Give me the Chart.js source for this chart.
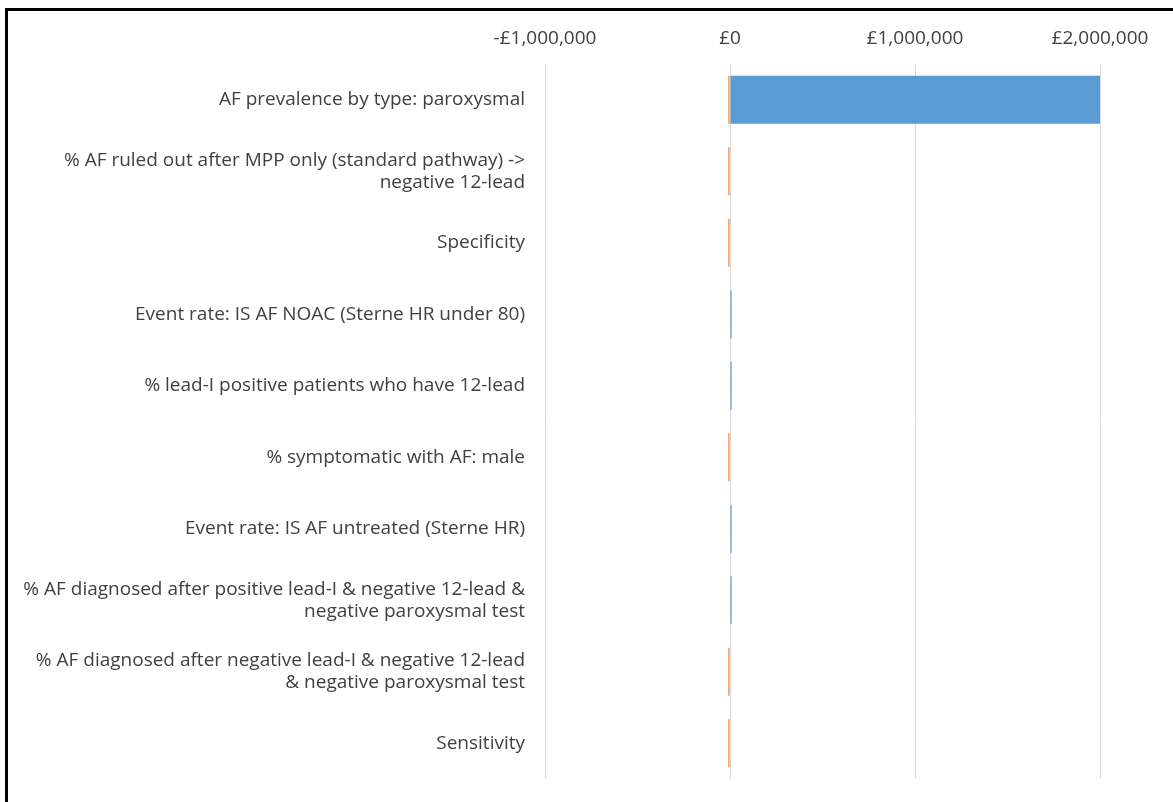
<!DOCTYPE html>
<html>
<head>
<meta charset="utf-8">
<script src="https://cdn.jsdelivr.net/npm/chart.js@4"></script>
<style>
  html, body { margin: 0; padding: 0; background: #fff; overflow: hidden; }
  #wrap { position: absolute; left: 0; top: 0; width: 1173px; height: 802px; }
  #frame {
    position: absolute; left: 5px; top: 8px; width: 1200px; height: 820px;
    border-top: 3px solid #000; border-left: 3px solid #000;
    box-sizing: border-box; pointer-events: none;
  }
</style>
</head>
<body>
<div id="wrap">
  <canvas id="tornado" width="1173" height="802"></canvas>
  <div id="frame"></div>
</div>
<script>
// Tornado chart: parameter ranges, high (blue) vs low (orange)
const categories = [
  'AF prevalence by type: paroxysmal',
  ['% AF ruled out after MPP only (standard pathway) ->', 'negative 12-lead'],
  'Specificity',
  'Event rate: IS AF NOAC (Sterne HR under 80)',
  '% lead-I positive patients who have 12-lead',
  '% symptomatic with AF: male',
  'Event rate: IS AF untreated (Sterne HR)',
  ['% AF diagnosed after positive lead-I & negative 12-lead &', 'negative paroxysmal test'],
  ['% AF diagnosed after negative lead-I & negative 12-lead', '& negative paroxysmal test'],
  'Sensitivity'
];

const highValues = [2005000, 0, 0, 9000, 9000, 0, 9000, 9000, 0, 0];
const lowValues = [-9000, -9000, -9000, 0, 0, -9000, 0, 0, -9000, -9000];

const xTicks = [-1000000, 0, 1000000, 2000000];

const textColor = '#404040';
const fontFamily = '"Open Sans", sans-serif';

function money(v) {
  const s = '£' + Math.abs(v).toLocaleString('en-GB');
  return v < 0 ? '-' + s : s;
}

const ctx = document.getElementById('tornado').getContext('2d');
new Chart(ctx, {
  type: 'bar',
  data: {
    labels: categories,
    datasets: [
      {
        label: 'High',
        data: highValues,
        backgroundColor: '#5B9BD5',
        borderWidth: 0,
        categoryPercentage: 0.67,
        barPercentage: 1
      },
      {
        label: 'Low',
        data: lowValues,
        backgroundColor: '#ED7D31',
        borderWidth: 0,
        categoryPercentage: 0.67,
        barPercentage: 1
      }
    ]
  },
  options: {
    indexAxis: 'y',
    responsive: false,
    animation: false,
    layout: { padding: { left: 10, top: 0, right: 73, bottom: 14 } },
    plugins: {
      legend: { display: false },
      tooltip: { enabled: false }
    },
    scales: {
      x: {
        position: 'top',
        stacked: true,
        min: -1000000,
        max: 2000000,
        afterBuildTicks: (axis) => { axis.ticks = xTicks.map(v => ({ value: v })); },
        afterFit: (scale) => { scale.height = 64; },
        border: { display: false },
        grid: { color: '#d9d9d9', drawTicks: false },
        ticks: {
          color: textColor,
          padding: 14,
          maxRotation: 0,
          font: { family: fontFamily, size: 19 },
          callback: (v) => money(v)
        }
      },
      y: {
        stacked: true,
        afterFit: (scale) => { scale.width = 535; },
        border: { display: false },
        grid: { display: false },
        ticks: {
          color: textColor,
          padding: 12,
          autoSkip: false,
          font: { family: fontFamily, size: 19, lineHeight: 1.16 }
        }
      }
    }
  }
});
</script>
</body>
</html>
